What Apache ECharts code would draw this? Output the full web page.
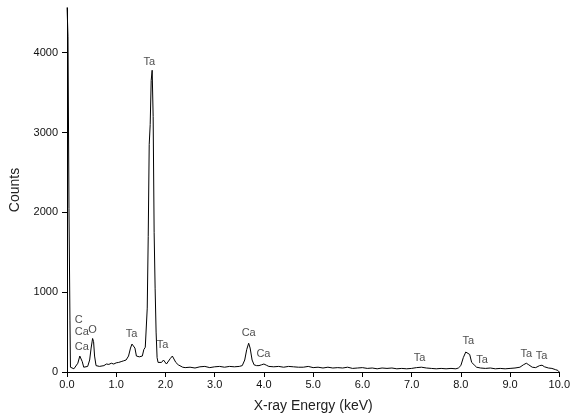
<!DOCTYPE html>
<html>
<head>
<meta charset="utf-8">
<script src="https://cdn.jsdelivr.net/npm/echarts@6/dist/echarts.min.js"></script>
<style>
html,body{margin:0;padding:0;background:#fff;}
#chart{width:573px;height:418px;}
</style>
</head>
<body>
<div id="chart"></div>
<script>
// Spectrum (energy in keV, counts)
var energy = [0.00,0.01,0.02,0.03,0.04,0.05,0.06,0.07,0.10,0.14,0.18,0.22,0.26,0.28,0.31,0.34,0.38,0.42,0.46,0.49,0.52,0.54,0.56,0.59,0.62,0.66,0.70,0.75,0.80,0.85,0.90,0.95,1.00,1.05,1.10,1.15,1.20,1.25,1.29,1.32,1.35,1.38,1.41,1.44,1.47,1.50,1.53,1.56,1.59,1.61,1.63,1.65,1.67,1.69,1.71,1.73,1.75,1.77,1.79,1.81,1.83,1.85,1.88,1.92,1.96,1.99,2.02,2.06,2.10,2.14,2.17,2.21,2.26,2.30,2.35,2.40,2.50,2.60,2.70,2.80,2.90,3.00,3.10,3.20,3.30,3.40,3.50,3.56,3.61,3.65,3.69,3.72,3.76,3.80,3.85,3.90,3.95,4.00,4.05,4.10,4.20,4.30,4.40,4.50,4.60,4.70,4.80,4.90,5.00,5.10,5.20,5.30,5.40,5.50,5.60,5.70,5.80,5.90,6.00,6.10,6.20,6.30,6.40,6.50,6.60,6.70,6.80,6.90,7.00,7.10,7.20,7.30,7.40,7.50,7.60,7.70,7.80,7.90,7.95,8.00,8.05,8.10,8.14,8.18,8.22,8.27,8.32,8.40,8.50,8.60,8.70,8.80,8.90,9.00,9.10,9.20,9.27,9.33,9.38,9.45,9.52,9.60,9.65,9.70,9.78,9.85,9.92,9.97,10.00];
var counts = [4600,4600,4200,4200,2050,2050,640,60,40,40,60,110,200,210,130,60,40,70,150,300,420,380,200,80,60,70,80,80,100,95,110,100,115,120,130,140,150,200,300,350,360,300,200,180,190,175,200,280,310,330,800,1700,2850,3100,3650,3780,3200,1750,1050,500,180,120,100,120,150,140,100,110,170,200,180,120,90,70,60,55,60,50,65,70,55,65,70,60,70,65,70,80,150,280,360,300,150,90,80,80,90,100,85,70,65,70,60,70,65,60,60,70,55,60,50,60,50,55,50,60,45,50,55,45,50,40,50,45,50,40,45,40,45,55,60,50,45,40,45,40,45,40,50,80,180,250,270,220,120,90,60,50,45,50,40,45,40,45,50,60,90,110,90,60,55,80,85,65,50,45,30,20,0];

// Peak annotations
var labelText   = ['Ta','C','Ca','O','Ca','Ta','Ta','Ca','Ca','Ta','Ta','Ta','Ta','Ta'];
var labelEnergy = [1.67,0.24,0.30,0.52,0.30,1.31,1.94,3.69,3.99,7.16,8.15,8.43,9.33,9.64];
var labelCounts = [3885,648,498,523,311,473,336,486,224,174,386,149,224,199];

var xTicks = [0,1,2,3,4,5,6,7,8,9,10];
var yTicks = [0,1000,2000,3000,4000];

var lineData = energy.map(function(e,i){return [e, counts[i]];});
var labelData = labelEnergy.map(function(e,i){return {value:[e, labelCounts[i]], name:labelText[i]};});

var chart = echarts.init(document.getElementById('chart'), null, {renderer:'canvas'});
chart.setOption({
  animation:false,
  backgroundColor:'#ffffff',
  grid:{left:67, right:9, top:8, bottom:44, containLabel:false},
  xAxis:{
    type:'value', min:0, max:10, interval:1,
    name:'X-ray Energy (keV)', nameLocation:'middle', nameGap:27,
    nameTextStyle:{fontFamily:'Liberation Sans', fontSize:14, color:'#222'},
    axisLine:{show:true, onZero:false, lineStyle:{color:'#000', width:1}},
    axisTick:{show:true, length:5, lineStyle:{color:'#000'}, customValues:xTicks},
    axisLabel:{fontFamily:'Liberation Sans', fontSize:11, color:'#111', margin:7, customValues:xTicks,
      formatter:function(v){return v.toFixed(1);}},
    splitLine:{show:false}
  },
  yAxis:{
    type:'value', min:0, max:4560,
    name:'Counts', nameLocation:'middle', nameGap:43,
    nameTextStyle:{fontFamily:'Liberation Sans', fontSize:14, color:'#222'},
    axisLine:{show:true, lineStyle:{color:'#000', width:1}},
    axisTick:{show:true, length:5, lineStyle:{color:'#000'}, customValues:yTicks},
    axisLabel:{fontFamily:'Liberation Sans', fontSize:11, color:'#111', margin:9, customValues:yTicks,
      formatter:function(v){return String(v);}},
    splitLine:{show:false}
  },
  series:[
    {
      type:'line', data:lineData, symbol:'none', clip:true,
      lineStyle:{color:'#000', width:1}
    },
    {
      type:'scatter', data:labelData, symbolSize:0, silent:true,
      label:{show:true, position:'inside', formatter:function(p){return p.name;},
        fontFamily:'Liberation Sans', fontSize:11, color:'#222'}
    }
  ]
});
</script>
</body>
</html>
